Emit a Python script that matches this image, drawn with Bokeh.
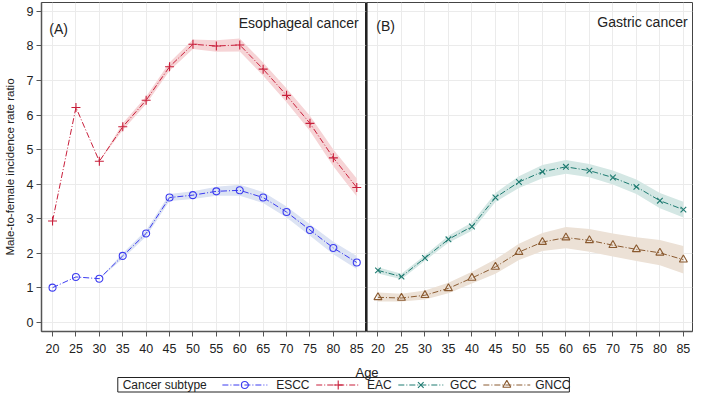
from bokeh.plotting import figure
from bokeh.models import Range1d, FixedTicker, Span, Label
from bokeh.layouts import column, row
from bokeh.embed import file_html
from bokeh.resources import INLINE
from bokeh.core.properties import value

# ---------------- data ----------------
ages = [20, 25, 30, 35, 40, 45, 50, 55, 60, 65, 70, 75, 80, 85]
y_ticks = [0, 1, 2, 3, 4, 5, 6, 7, 8, 9]

escc = [1.00, 1.31, 1.26, 1.92, 2.57, 3.61, 3.68, 3.79, 3.82, 3.61, 3.19, 2.67, 2.15, 1.73]
escc_lo = [1.00, 1.31, 1.26, 1.84, 2.48, 3.51, 3.57, 3.66, 3.66, 3.45, 3.03, 2.50, 1.97, 1.54]
escc_hi = [1.00, 1.31, 1.26, 2.00, 2.66, 3.71, 3.79, 3.92, 3.98, 3.77, 3.35, 2.84, 2.33, 1.92]

eac = [2.93, 6.22, 4.66, 5.66, 6.43, 7.40, 8.05, 8.00, 8.03, 7.33, 6.57, 5.76, 4.76, 3.90]
eac_lo = [2.93, 6.22, 4.66, 5.56, 6.32, 7.28, 7.91, 7.83, 7.84, 7.14, 6.37, 5.54, 4.52, 3.64]
eac_hi = [2.93, 6.22, 4.66, 5.76, 6.54, 7.52, 8.19, 8.17, 8.22, 7.52, 6.77, 5.98, 5.00, 4.16]

gcc = [1.50, 1.32, 1.86, 2.40, 2.77, 3.61, 4.06, 4.36, 4.50, 4.39, 4.19, 3.92, 3.52, 3.26]
gcc_lo = [1.41, 1.24, 1.78, 2.30, 2.65, 3.48, 3.89, 4.17, 4.30, 4.20, 3.99, 3.71, 3.30, 3.03]
gcc_hi = [1.59, 1.40, 1.94, 2.50, 2.89, 3.74, 4.23, 4.55, 4.70, 4.58, 4.39, 4.13, 3.74, 3.49]

gncc = [0.72, 0.70, 0.78, 0.98, 1.28, 1.60, 2.03, 2.32, 2.45, 2.37, 2.23, 2.11, 2.01, 1.81]
gncc_lo = [0.60, 0.60, 0.66, 0.84, 1.12, 1.40, 1.80, 2.06, 2.14, 2.04, 1.90, 1.77, 1.65, 1.41]
gncc_hi = [0.86, 0.82, 0.92, 1.14, 1.46, 1.82, 2.27, 2.58, 2.76, 2.70, 2.57, 2.46, 2.38, 2.21]

series_names = ["ESCC", "EAC", "GCC", "GNCC"]
panel_letters = ["(A)", "(B)"]
panel_titles = ["Esophageal cancer", "Gastric cancer"]
y_title = "Male-to-female incidence rate ratio"
x_title = "Age"
legend_title = "Cancer subtype"

# ---------------- styles ----------------
FONT = "Liberation Sans"
col = {"ESCC": "#3b3bf0", "EAC": "#c81e3a", "GCC": "#1d7a70", "GNCC": "#8a5a30"}
band = {"ESCC": "#dce3f3", "EAC": "#f6d4d6", "GCC": "#d4e7e4", "GNCC": "#ece1d6"}
mark = {"ESCC": ("circle", 7), "EAC": ("cross", 9), "GCC": ("x", 8), "GNCC": ("triangle", 8)}
DASH = "6 2 1 2"
AXC = "#555555"


def make_panel(width, xr, left_border, show_y):
    p = figure(width=width, height=359, x_range=Range1d(*xr), y_range=Range1d(-0.27, 9.26),
               output_backend="svg", toolbar_location=None,
               min_border_left=left_border, min_border_right=0,
               min_border_top=2, min_border_bottom=28)
    p.outline_line_color = "#444444"
    p.outline_line_width = 1
    p.background_fill_color = "white"
    p.border_fill_color = "white"
    p.xaxis.ticker = FixedTicker(ticks=ages)
    p.yaxis.ticker = FixedTicker(ticks=y_ticks)
    p.xgrid.ticker = FixedTicker(ticks=ages)
    p.ygrid.ticker = FixedTicker(ticks=y_ticks)
    p.grid.grid_line_color = "#ebebeb"
    p.grid.grid_line_width = 1
    for ax in [p.xaxis[0], p.yaxis[0]]:
        ax.axis_line_color = AXC
        ax.axis_line_width = 1.5
        ax.major_tick_line_color = AXC
        ax.major_tick_out = 5
        ax.major_tick_in = 0
        ax.minor_tick_line_color = None
        ax.major_label_text_font = FONT
        ax.major_label_text_font_size = "12.5px"
        ax.major_label_text_color = "#222222"
    p.xaxis.major_label_standoff = 7
    if show_y:
        p.yaxis.axis_label = y_title
        p.yaxis.axis_label_text_font = FONT
        p.yaxis.axis_label_text_font_style = "normal"
        p.yaxis.axis_label_text_font_size = "11.5px"
        p.yaxis.axis_label_text_color = "#222222"
        p.yaxis.axis_label_standoff = 8
        p.yaxis.major_label_standoff = 3
    else:
        p.yaxis.visible = False
    return p


def add_band(p, name, lo, hi):
    p.varea(x=ages, y1=lo, y2=hi, fill_color=band[name], fill_alpha=1.0)


def add_line(p, name, vals):
    p.line(ages, vals, line_color=col[name], line_width=1, line_dash=DASH)
    m, s = mark[name]
    p.scatter(ages, vals, marker=m, size=s, line_color=col[name], fill_color=None, line_width=1.1)


# Left panel
p1 = make_panel(366, (17.64, 87.08), 41, True)
add_band(p1, "ESCC", escc_lo, escc_hi)
add_band(p1, "EAC", eac_lo, eac_hi)
add_line(p1, "ESCC", escc)
add_line(p1, "EAC", eac)
p1.add_layout(Label(x=19.31, y=8.50, text=panel_letters[0], text_font=FONT, text_font_size="14px",
                    text_color="#222222", text_baseline="alphabetic", text_align="left"))
p1.add_layout(Label(x=85.4, y=8.68, text=panel_titles[0], text_font=FONT, text_font_size="14px",
                    text_color="#222222", text_baseline="alphabetic", text_align="right"))
p1.add_layout(Span(location=87.08, dimension="height", line_color="black", line_width=2))

# Right panel
p2 = make_panel(327, (17.56, 86.94), 0, False)
p2.min_border_right = 1
add_band(p2, "GCC", gcc_lo, gcc_hi)
add_band(p2, "GNCC", gncc_lo, gncc_hi)
add_line(p2, "GCC", gcc)
add_line(p2, "GNCC", gncc)
p2.add_layout(Label(x=19.65, y=8.57, text=panel_letters[1], text_font=FONT, text_font_size="14px",
                    text_color="#222222", text_baseline="alphabetic", text_align="left"))
p2.add_layout(Label(x=85.9, y=8.69, text=panel_titles[1], text_font=FONT, text_font_size="14px",
                    text_color="#222222", text_baseline="alphabetic", text_align="right"))
p2.add_layout(Span(location=17.56, dimension="height", line_color="black", line_width=2))

# Bottom strip: x title + legend (coordinates in reference pixels)
p3 = figure(width=693, height=41, x_range=Range1d(0, 709), y_range=Range1d(416, 375),
            output_backend="svg", toolbar_location=None,
            x_axis_location=None, y_axis_location=None,
            min_border_left=0, min_border_right=0, min_border_top=0, min_border_bottom=0)
p3.grid.visible = False
p3.outline_line_color = None
p3.add_layout(Label(x=375, y=387.5, text=x_title, text_font=FONT, text_font_size="13px",
                    text_color="#222222", text_align="center", text_baseline="alphabetic"))
p3.quad(left=[120], right=[582], top=[393], bottom=[407.5], fill_color=None,
        line_color="#222222", line_width=1)
p3.add_layout(Label(x=125, y=400.5, text=legend_title, text_font=FONT, text_font_size="12px",
                    text_color="#222222", text_align="left", text_baseline="middle"))
leg_x0 = [227, 323, 407, 494]
leg_x1 = [273, 368, 453, 542]
leg_tx = [282, 375, 460, 547]
for i, name in enumerate(series_names):
    p3.segment(x0=[leg_x0[i]], y0=[400.5], x1=[leg_x1[i]], y1=[400.5],
               line_color=col[name], line_width=1, line_dash=DASH)
    m, s = mark[name]
    p3.scatter([(leg_x0[i] + leg_x1[i]) / 2], [400.5], marker=m, size=s,
               line_color=col[name], fill_color=None, line_width=1.1)
    p3.add_layout(Label(x=leg_tx[i], y=400.5, text=name, text_font=FONT, text_font_size="12px",
                        text_color="#222222", text_align="left", text_baseline="middle"))

layout = column(row(p1, p2, spacing=0), p3, spacing=0)
p = layout
open("out.html", "w").write(file_html(p, INLINE))
